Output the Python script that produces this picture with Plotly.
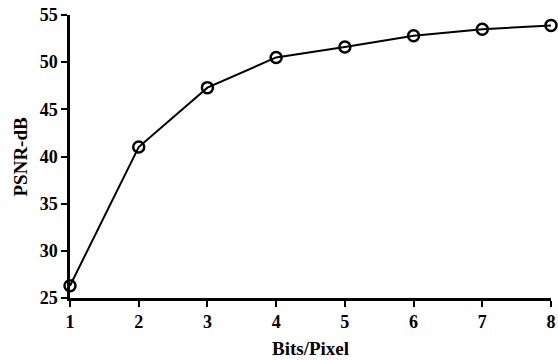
import plotly.graph_objects as go

bits = [1, 2, 3, 4, 5, 6, 7, 8]
psnr = [26.3, 41.0, 47.3, 50.5, 51.6, 52.8, 53.5, 53.9]
x_ticks = [1, 2, 3, 4, 5, 6, 7, 8]
y_ticks = [25, 30, 35, 40, 45, 50, 55]

fig = go.Figure()
fig.add_trace(go.Scatter(
    x=bits, y=psnr, mode="lines+markers",
    line=dict(color="black", width=2),
    marker=dict(symbol="circle-open", size=11, color="black", line=dict(width=2.5)),
    cliponaxis=False, showlegend=False,
))

font = dict(family="Liberation Serif", size=18, color="black")
title_font = dict(family="Liberation Serif", size=19, color="black")
fig.update_layout(
    width=558, height=360,
    margin=dict(l=70, r=7, t=15, b=62),
    paper_bgcolor="white", plot_bgcolor="white",
    font=font,
    xaxis=dict(
        range=[1, 8], tickvals=x_ticks, ticktext=[f"<b>{v}</b>" for v in x_ticks],
        showline=True, linecolor="black", linewidth=2.5, mirror=False,
        ticks="outside", ticklen=6, tickwidth=2, tickcolor="black",
        showgrid=False, zeroline=False, automargin=False,
    ),
    yaxis=dict(
        range=[25, 55], tickvals=y_ticks, ticktext=[f"<b>{v}</b>" for v in y_ticks],
        showline=True, linecolor="black", linewidth=2.5,
        ticks="outside", ticklen=6, tickwidth=2, tickcolor="black",
        showgrid=False, zeroline=False, automargin=False,
    ),
    annotations=[
        dict(text="<b>Bits/Pixel</b>", xref="paper", yref="paper", x=0.5, y=0,
             xanchor="center", yanchor="middle", yshift=-50, showarrow=False, font=title_font),
        dict(text="<b>PSNR-dB</b>", xref="paper", yref="paper", x=0, y=0.5,
             xanchor="center", yanchor="middle", xshift=-50, textangle=-90,
             showarrow=False, font=title_font),
    ],
)
fig.write_html("out.html")
